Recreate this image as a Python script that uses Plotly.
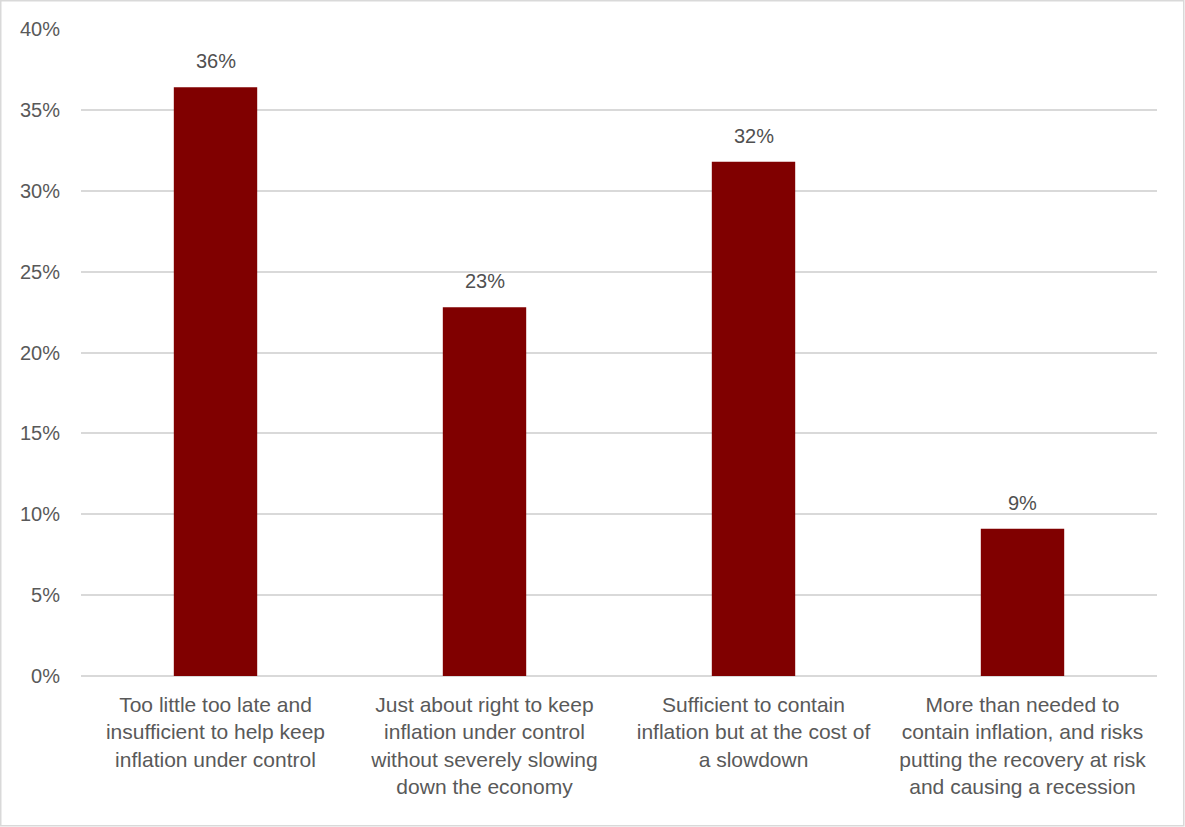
import plotly.graph_objects as go

categories = [
    ["Too little too late and", "insufficient to help keep", "inflation under control"],
    ["Just about right to keep", "inflation under control", "without severely slowing", "down the economy"],
    ["Sufficient to contain", "inflation but at the cost of", "a slowdown"],
    ["More than needed to", "contain inflation, and risks", "putting the recovery at risk", "and causing a recession"],
]
values = [0.364, 0.228, 0.318, 0.091]
y_ticks = [0, 0.05, 0.10, 0.15, 0.20, 0.25, 0.30, 0.35, 0.40]

FONT = "Liberation Sans, Arial, sans-serif"
x_labels = ["<br>".join(c) for c in categories]

fig = go.Figure()
fig.add_trace(go.Bar(
    x=x_labels, y=values,
    marker=dict(color="#800000", line=dict(width=0)),
    width=0.31,
    hoverinfo="skip",
))
for xl, v in zip(x_labels, values):
    fig.add_annotation(x=xl, y=v, text=f"{round(v*100):.0f}%", showarrow=False,
                       yanchor="bottom", yshift=13,
                       font=dict(family=FONT, size=20, color="#505050"))

W, H = 1185, 827
ml, mr, mt, mb = 81, 28, 29, 151
pw, ph = W - ml - mr, H - mt - mb
fig.add_shape(type="rect", xref="paper", yref="paper",
              x0=(0.75 - ml) / pw, x1=(W - 1.25 - ml) / pw,
              y0=-(mb - 1.25) / ph, y1=1 + (mt - 0.75) / ph,
              line=dict(color="#d9d9d9", width=1.5), layer="below")

fig.update_layout(
    width=W, height=H,
    margin=dict(l=ml, r=mr, t=mt, b=mb),
    paper_bgcolor="white", plot_bgcolor="white",
    showlegend=False,
    font=dict(family=FONT, color="#595959"),
)
fig.update_xaxes(tickfont=dict(size=21, color="#595959"), showgrid=False,
                 showline=False, ticks="", ticklabelstandoff=14)
fig.update_yaxes(range=[0, 0.4], tickvals=y_ticks, tickformat=".0%",
                 tickfont=dict(size=20, color="#595959"),
                 showgrid=True, gridcolor="#d9d9d9", gridwidth=1.5,
                 zeroline=True, zerolinecolor="#d9d9d9", zerolinewidth=1.5,
                 showline=False, ticks="", ticklabelstandoff=20)

fig.write_html("out.html", config={"displayModeBar": False},
               post_script="document.body.style.margin='0';")
